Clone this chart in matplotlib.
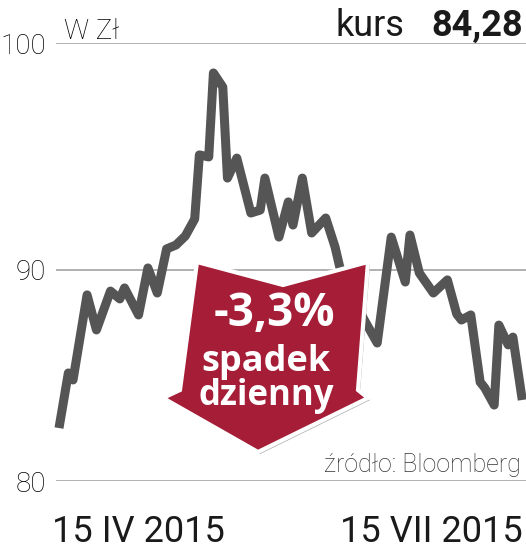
import numpy as np
import matplotlib
matplotlib.use("Agg")
import matplotlib.pyplot as plt
from matplotlib.patches import Polygon
import matplotlib.patheffects as pe

# dane: numer sesji i kurs w zl
sesja = [0, 2, 3, 6, 8, 11, 13, 14, 17, 19, 21, 23, 25, 27, 29, 30, 32, 33, 35, 36,
         38, 41, 43, 44, 47, 49, 50, 52, 54, 57, 59, 60, 65, 68, 71, 74, 75, 77, 80, 83,
         85, 86, 88, 90, 91, 93, 94, 96, 97, 99]
kurs = [82.51, 85.12, 84.79, 88.82, 87.16, 89.00, 88.63, 89.15, 87.87, 90.09, 88.91,
        90.93, 91.10, 91.50, 92.25, 95.07, 94.98, 98.68, 98.06, 94.05, 94.93, 92.51,
        92.64, 94.05, 91.45, 93.00, 91.98, 94.05, 91.63, 92.29, 91.01, 90.13, 87.73,
        86.54, 91.45, 89.43, 91.54, 89.86, 88.91, 89.53, 87.91, 87.63, 87.87, 84.69,
        84.41, 83.60, 87.39, 86.45, 86.82, 83.84]
y_ticks = [80, 90, 100]
x_tick_pos = [17, 79.5]
x_tick_lab = ["15 IV 2015", "15 VII 2015"]
ostatni = "84,28"
zmiana = "-3,3%"

W, H = 526, 554
def px(x, y):                      # piksele -> ulamki figury
    return x / W, 1 - y / H

# os y w gazecie nie jest rowna: 90-100 szersze niz 80-90
def fwd(v):
    v = np.asarray(v, float)
    return np.where(v < 90, (v - 90) * 21.1 + 211, (v - 90) * 22.7 + 211)

def inv(p):
    p = np.asarray(p, float)
    return np.where(p < 211, (p - 211) / 21.1 + 90, (p - 211) / 22.7 + 90)

light = dict(family=["Roboto", "DejaVu Sans"], weight="light")

fig = plt.figure(figsize=(W / 100, H / 100), dpi=100)
ax = fig.add_axes([56 / W, 73 / H, 470 / W, 438 / H])
ax.set_yscale("function", functions=(fwd, inv))
ax.set_ylim(80, 100)
ax.set_xlim(-0.64, 99.8)

ax.plot(sesja, kurs, color="#555555", lw=6.5, solid_joinstyle="round",
        solid_capstyle="butt", zorder=3, clip_on=False)

ax.set_yticks(y_ticks)
ax.set_yticklabels([str(t) for t in y_ticks], fontsize=20, **light)
ax.grid(axis="y", color="#aaaaaa", lw=1.3, zorder=1)
ax.set_xticks(x_tick_pos)
ax.set_xticklabels(x_tick_lab, fontsize=26, family=["Roboto", "DejaVu Sans"], color="#1a1a1a")
ax.tick_params(axis="y", length=0, pad=7)
ax.tick_params(axis="x", length=0, pad=24)
for s in ax.spines.values():
    s.set_visible(False)

fig.text(*px(64, 39), "W Zł", fontsize=20, ha="left", va="baseline", **light)
fig.text(*px(404, 36), "kurs", fontsize=26, ha="right", va="baseline",
         family=["Roboto", "DejaVu Sans"], color="#1a1a1a")
fig.text(*px(523, 36), ostatni, fontsize=26, ha="right", va="baseline",
         family=["Roboto", "DejaVu Sans"], weight="bold", color="#1a1a1a")
fig.text(*px(521, 472), "źródło: Bloomberg", fontsize=18, ha="right", va="baseline",
         color="#333333", **light)

# czerwona strzalka
strz = [(197, 262), (283, 285), (368, 262), (358, 390), (368, 398), (258, 452),
        (163, 398), (180, 390)]
arrow = Polygon([px(x, y) for x, y in strz], closed=True, transform=fig.transFigure,
                facecolor="#a51d36", edgecolor="white", lw=3, joinstyle="miter", zorder=5)
arrow.set_path_effects([pe.SimplePatchShadow(offset=(1.5, -1.5), shadow_rgbFace="#777777",
                                             alpha=0.6), pe.Normal()])
fig.add_artist(arrow)

bold = dict(family=["Open Sans", "DejaVu Sans"], weight="bold", color="white",
            ha="center", va="center", zorder=6)
fig.text(*px(274, 313), zmiana, fontsize=33, **bold)
fig.text(*px(266, 362), "spadek", fontsize=26, **bold)
fig.text(*px(266, 396), "dzienny", fontsize=25, **bold)

fig.savefig("out.png", dpi=100)
